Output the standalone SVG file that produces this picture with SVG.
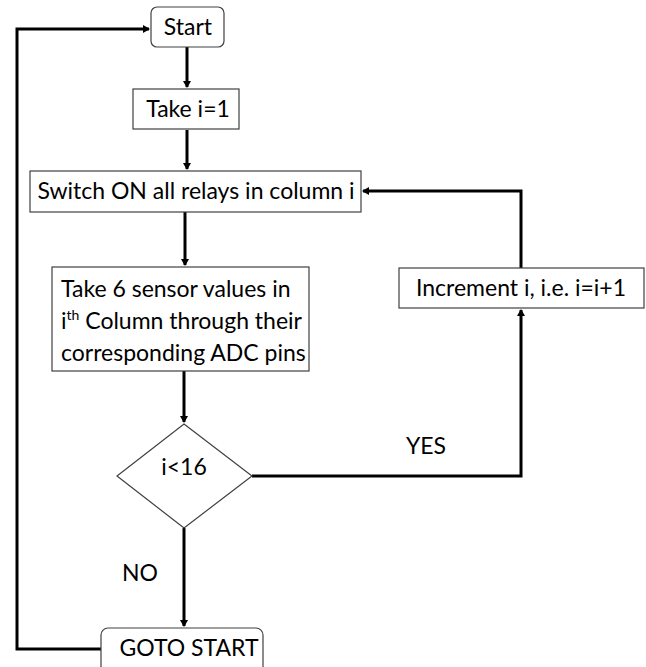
<svg xmlns="http://www.w3.org/2000/svg" width="646" height="667" viewBox="0 0 646 667">
<style>
.box{fill:#fff;stroke:#404040;stroke-width:1.2}
.t{font-family:Lato,"Open Sans",sans-serif;font-size:23px;fill:#000}
.c{fill:none;stroke:#000;stroke-width:3}
</style>
<defs>
<marker id="ah" markerWidth="8" markerHeight="8" refX="6" refY="4" orient="auto" markerUnits="userSpaceOnUse">
<path d="M0,0 L7,4 L0,8 Z" fill="#000"/>
</marker>
</defs>
<rect width="646" height="667" fill="#fff"/>
<g id="connectors">
<path class="c" d="M187,47 V87" marker-end="url(#ah)"/>
<path class="c" d="M187,130 V169" marker-end="url(#ah)"/>
<path class="c" d="M185,212 V265" marker-end="url(#ah)"/>
<path class="c" d="M184,371 V422" marker-end="url(#ah)"/>
<path class="c" d="M184,528 V626" marker-end="url(#ah)"/>
<path class="c" d="M252,476 H521 V310" marker-end="url(#ah)"/>
<path class="c" d="M521,268 V191 H363" marker-end="url(#ah)"/>
<path class="c" d="M101,649 H17 V29 H149" marker-end="url(#ah)"/>
</g>
<g id="start">
<rect class="box" x="151" y="7" width="73" height="40" rx="6"/>
<text class="t" x="188" y="35" text-anchor="middle">Start</text>
</g>
<g id="take1">
<rect class="box" x="133" y="89" width="106" height="40"/>
<text class="t" x="188" y="117" text-anchor="middle">Take i=1</text>
</g>
<g id="switch">
<rect class="box" x="30" y="171" width="331" height="41"/>
<text class="t" x="196" y="199" text-anchor="middle">Switch ON all relays in column i</text>
</g>
<g id="take6">
<rect class="box" x="52" y="267" width="257" height="104"/>
<text class="t" x="61" y="297">Take 6 sensor values in</text>
<text class="t" x="61" y="329">i<tspan font-size="14" dy="-9">th</tspan><tspan dy="9"> Column through their</tspan></text>
<text class="t" x="61" y="361">corresponding ADC pins</text>
</g>
<g id="increment">
<rect class="box" x="399" y="268" width="245" height="40"/>
<text class="t" x="521" y="296" text-anchor="middle">Increment i, i.e. i=i+1</text>
</g>
<g id="decision">
<polygon class="box" points="184,424 252,476 184,528 117,476"/>
<text class="t" x="184" y="475" text-anchor="middle">i&lt;16</text>
</g>
<g id="goto">
<rect class="box" x="101" y="628" width="162" height="50" rx="7"/>
<text class="t" x="189" y="656" text-anchor="middle">GOTO START</text>
</g>
<g id="labels">
<text class="t" x="426" y="454" text-anchor="middle">YES</text>
<text class="t" x="140" y="581" text-anchor="middle">NO</text>
</g>
</svg>
